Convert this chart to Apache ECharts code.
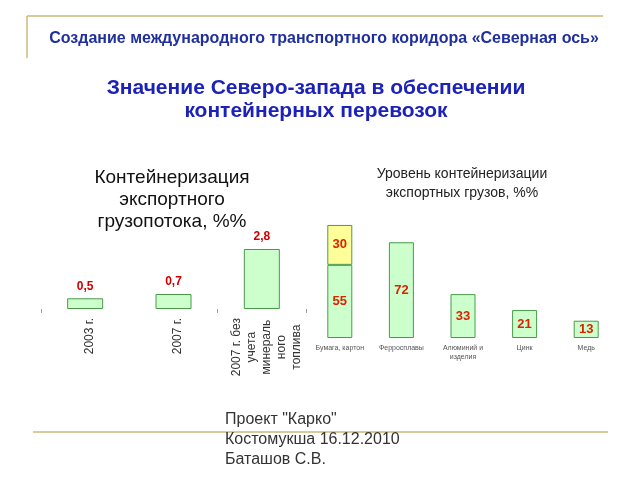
<!DOCTYPE html>
<html><head><meta charset="utf-8">
<script src="https://cdn.jsdelivr.net/npm/echarts@6/dist/echarts.min.js"></script>
<style>html,body{margin:0;padding:0;background:#fff}#c{width:640px;height:480px}</style>
</head><body><div id="c"></div>
<script>
const leftCats = ['2003 г.', '2007 г.', '2007 г. без\nучета\nминераль\nного\nтоплива'];
const leftVals = [0.5, 0.7, 2.8];
const rightCats = ['Бумага, картон', 'Ферросплавы', 'Алюминий и\nизделия', 'Цинк', 'Медь'];
const rightBase = [55, 72, 33, 21, 13];
const rightTop = [30, null, null, null, null];

const fmtComma = p => String(p.value).replace('.', ',');
const chart = echarts.init(document.getElementById('c'));
const gold = '#cdb879';
chart.setOption({
  animation: false,
  title: [
    {text: 'Создание международного транспортного коридора «Северная ось»', left: 319, top: 26, textAlign: 'center',
     textStyle: {fontFamily: 'Liberation Sans', fontSize: 16, fontWeight: 'bold', color: '#1f2f9c'}},
    {text: 'Значение Северо-запада в обеспечении\nконтейнерных перевозок', left: 311, top: 72, textAlign: 'center',
     textStyle: {fontFamily: 'Liberation Sans', fontSize: 21, fontWeight: 'bold', color: '#1c22b8', lineHeight: 23}},
    {text: 'Контейнеризация\nэкспортного\nгрузопотока, %%', left: 167, top: 162, textAlign: 'center',
     textStyle: {fontFamily: 'Liberation Sans', fontSize: 19, fontWeight: 'normal', color: '#111', lineHeight: 22}},
    {text: 'Уровень контейнеризации\nэкспортных грузов, %%', left: 457, top: 160, textAlign: 'center',
     textStyle: {fontFamily: 'Liberation Sans', fontSize: 14, fontWeight: 'normal', color: '#222', lineHeight: 19}},
    {text: 'Проект "Карко"\nКостомукша 16.12.2010\nБаташов С.В.', left: 220, top: 405,
     textStyle: {fontFamily: 'Liberation Sans', fontSize: 16, fontWeight: 'normal', color: '#333', lineHeight: 20}}
  ],
  graphic: [
    {type: 'line', shape: {x1: 27, y1: 16, x2: 603, y2: 16}, style: {stroke: gold, lineWidth: 1.5}, z: -1},
    {type: 'line', shape: {x1: 27, y1: 16, x2: 27, y2: 58}, style: {stroke: gold, lineWidth: 1.5}, z: -1},
    {type: 'line', shape: {x1: 33, y1: 432, x2: 608, y2: 432}, style: {stroke: gold, lineWidth: 1.5}, z: -1}
  ],
  grid: [
    {left: 41, width: 265, top: 234, height: 75},
    {left: 309, width: 308, top: 205, height: 133}
  ],
  xAxis: [
    {type: 'category', gridIndex: 0, data: leftCats,
     axisLine: {show: false}, axisTick: {show: true, length: 4, interval: i => i === 0 || i === 2, lineStyle: {color: '#999'}},
     axisLabel: {rotate: 90, margin: 9, interval: 0, color: '#333', fontFamily: 'Liberation Sans', fontSize: 12,
       padding: [9, 0, 0, 0],
       formatter: v => v.split('\n').map(s => '{c|' + s + '}').join('\n'),
       rich: {c: {align: 'center', fontSize: 12, lineHeight: 15, color: '#333', fontFamily: 'Liberation Sans'}}}},
    {type: 'category', gridIndex: 1, data: rightCats,
     axisLine: {show: false}, axisTick: {show: false},
     axisLabel: {margin: 6, interval: 0, color: '#555', fontFamily: 'Liberation Sans', fontSize: 7, lineHeight: 9}}
  ],
  yAxis: [
    {type: 'value', gridIndex: 0, min: 0, max: 3.5, show: false},
    {type: 'value', gridIndex: 1, min: 0, max: 100, show: false}
  ],
  series: [
    {type: 'bar', xAxisIndex: 0, yAxisIndex: 0, data: leftVals, barWidth: 36,
     itemStyle: {color: '#ccffcc', borderColor: '#4a9a4a', borderWidth: 1},
     label: {show: true, position: 'top', distance: 6, formatter: fmtComma, color: '#cc0000',
       fontFamily: 'Liberation Sans', fontSize: 12, fontWeight: 'bold'}},
    {type: 'bar', xAxisIndex: 1, yAxisIndex: 1, stack: 's', data: rightBase, barWidth: 25,
     itemStyle: {color: '#ccffcc', borderColor: '#4a9a4a', borderWidth: 1},
     label: {show: true, position: 'inside', color: '#dd2200', fontFamily: 'Liberation Sans', fontSize: 13, fontWeight: 'bold'}},
    {type: 'bar', xAxisIndex: 1, yAxisIndex: 1, stack: 's', data: rightTop, barWidth: 25,
     itemStyle: {color: '#ffff99', borderColor: '#4a9a4a', borderWidth: 1},
     label: {show: true, position: 'inside', color: '#dd2200', fontFamily: 'Liberation Sans', fontSize: 13, fontWeight: 'bold'}}
  ]
});
</script></body></html>
